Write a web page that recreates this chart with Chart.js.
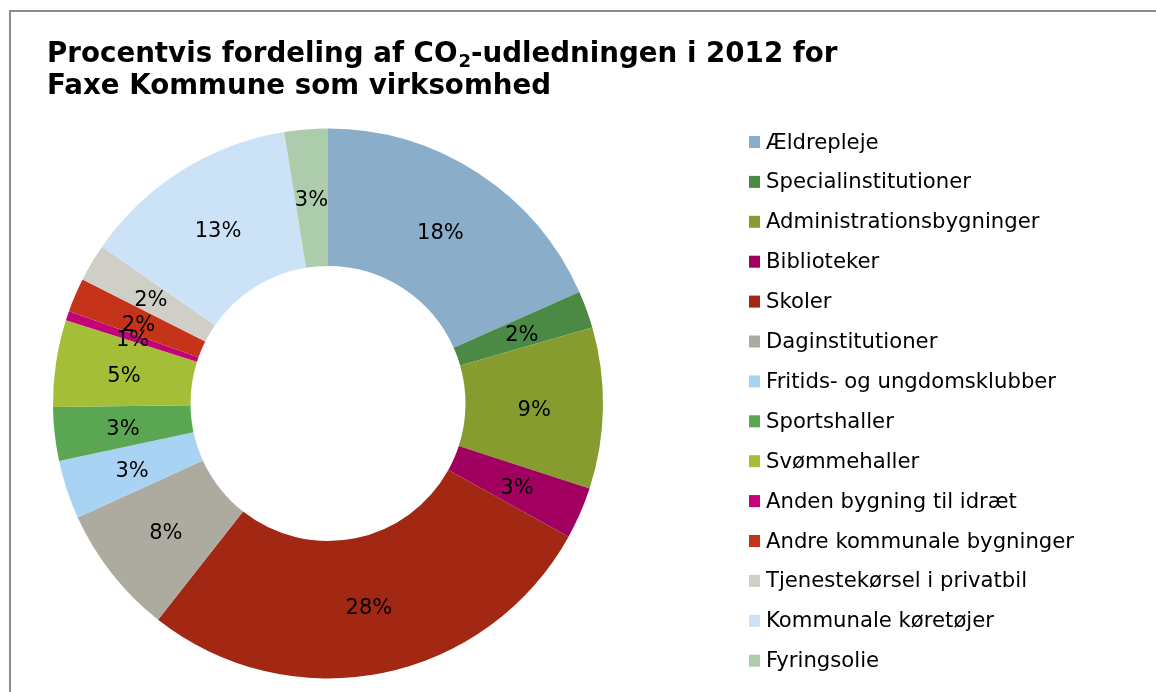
<!DOCTYPE html>
<html>
<head>
<meta charset="utf-8">
<script src="https://cdn.jsdelivr.net/npm/chart.js@4.4.1/dist/chart.umd.min.js"></script>
<style>
  html, body { margin: 0; padding: 0; background: #fff; }
  #wrap { position: relative; width: 1156px; height: 692px; }
</style>
</head>
<body>
<div id="wrap"><canvas id="co2-chart" width="1156" height="692"></canvas></div>
<script>
// Data
var categories = ["Ældrepleje", "Specialinstitutioner", "Administrationsbygninger", "Biblioteker", "Skoler", "Daginstitutioner", "Fritids- og ungdomsklubber", "Sportshaller", "Svømmehaller", "Anden bygning til idræt", "Andre kommunale bygninger", "Tjenestekørsel i privatbil", "Kommunale køretøjer", "Fyringsolie"];
var shares = [18.35, 2.2, 9.45, 3.05, 27.55, 7.6, 3.45, 3.15, 5.1, 0.55, 2.0, 2.2, 12.8, 2.55];
var sliceColors = ['#8AADCA', '#4A8A45', '#879C2E', '#A10060', '#A22814', '#ADABA0', '#A8D3F3', '#5BA653', '#A4BE38', '#C4007A', '#C5341A', '#D0CFC7', '#CCE3F7', '#ADCCAB'];
var titleLines = ["Procentvis fordeling af CO", "2", "-udledningen i 2012 for", "Faxe Kommune som virksomhed"];

// frame + title
const frameAndTitle = {
    id: 'frameAndTitle',
    beforeDraw(chart) {
        const ctx = chart.ctx;
        ctx.save();
        ctx.strokeStyle = '#8C8C8C';
        ctx.lineWidth = 2;
        ctx.beginPath();
        ctx.moveTo(10, 700);
        ctx.lineTo(10, 11);
        ctx.lineTo(1160, 11);
        ctx.stroke();

        ctx.fillStyle = '#000';
        ctx.textBaseline = 'alphabetic';
        ctx.textAlign = 'left';
        ctx.font = 'bold 27.7px "DejaVu Sans"';
        let x = 47;
        ctx.fillText(titleLines[0], x, 62);
        x += ctx.measureText(titleLines[0]).width;
        ctx.font = 'bold 18px "DejaVu Sans"';
        ctx.fillText(titleLines[1], x + 1, 67);
        x += ctx.measureText(titleLines[1]).width + 1;
        ctx.font = 'bold 27.7px "DejaVu Sans"';
        ctx.fillText(titleLines[2], x, 62);
        ctx.fillText(titleLines[3], 47, 94);
        ctx.restore();
    }
};

// percent labels in the ring + legend on the right
const ringLabels = {
    id: 'ringLabels',
    afterDatasetsDraw(chart) {
        const ctx = chart.ctx;
        const data = chart.data.datasets[0].data;
        const total = data.reduce((a, b) => a + b, 0);
        ctx.save();
        ctx.font = '21px "DejaVu Sans"';
        ctx.fillStyle = '#000';
        ctx.textAlign = 'center';
        ctx.textBaseline = 'middle';
        chart.getDatasetMeta(0).data.forEach((arc, i) => {
            const {x, y} = arc.tooltipPosition();
            ctx.fillText(Math.round(data[i] / total * 100) + '%', x, y + 3);
        });

        // legend
        ctx.font = '21.2px "DejaVu Sans"';
        ctx.textAlign = 'left';
        chart.data.labels.forEach((label, i) => {
            const yRow = 142 + i * 39.9;
            ctx.fillStyle = sliceColors[i];
            ctx.fillRect(749, yRow - 6, 11, 12);
            ctx.fillStyle = '#000';
            ctx.fillText(label, 766, yRow + 1);
        });
        ctx.restore();
    }
};

var chartData = {
    labels: categories,
    datasets: [{
        data: shares,
        backgroundColor: sliceColors,
        borderWidth: 0,
        cutout: '50%'
    }]
};

var chartOptions = {
    responsive: false,
    animation: false,
    layout: {
        padding: { left: 53, right: 553, top: 128.5, bottom: 13.5 }
    },
    plugins: {
        legend: { display: false },
        tooltip: { enabled: false }
    }
};

var co2Chart = new Chart(document.getElementById('co2-chart'), {
    type: 'doughnut',
    data: chartData,
    options: chartOptions,
    plugins: [frameAndTitle, ringLabels]
});
</script>
</body>
</html>
